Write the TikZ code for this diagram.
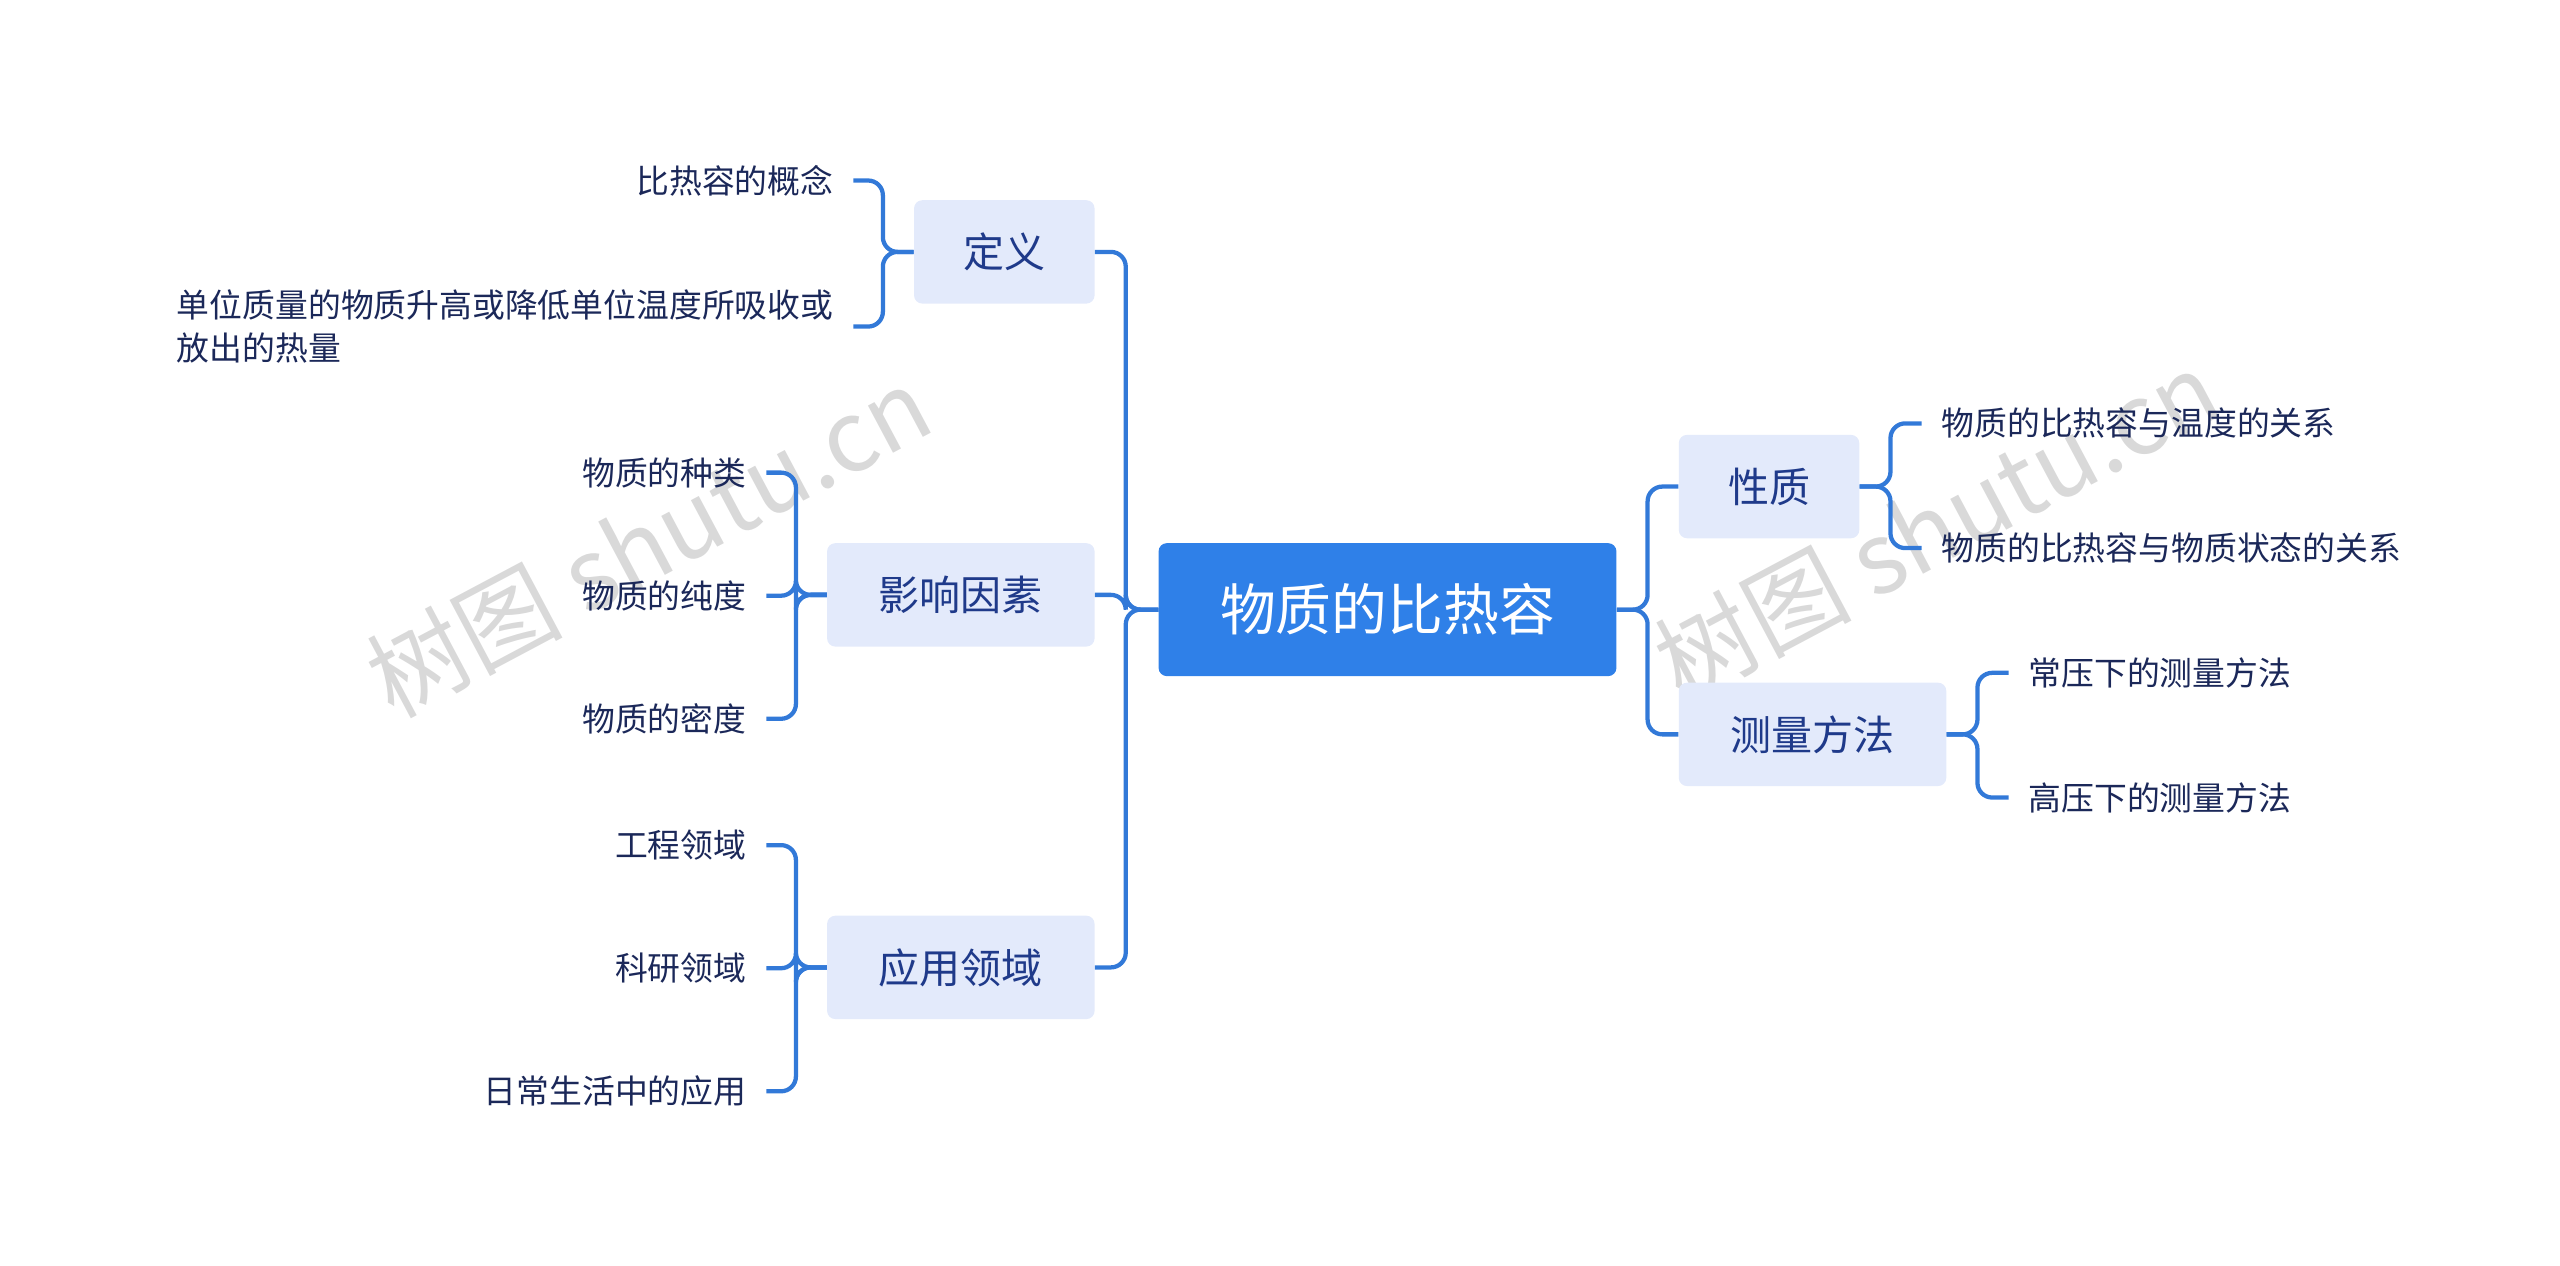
\documentclass[tikz,border=0pt]{standalone}
\usepackage{fontspec}
\setmainfont{Noto Sans CJK SC}
\definecolor{cen}{HTML}{2F80E8}
\definecolor{brf}{HTML}{E3EAFB}
\definecolor{brt}{HTML}{1F3A8A}
\definecolor{lft}{HTML}{1B2859}
\definecolor{ln}{HTML}{3279D8}
\begin{document}
\begin{tikzpicture}[x=1pt,y=-1pt,
  central/.style={fill=cen,text=white,rounded corners=5pt,minimum width=279pt,minimum height=81pt,font=\fontsize{34}{40}\selectfont,inner sep=0pt},
  branch/.style={fill=brf,text=brt,rounded corners=5pt,minimum height=63pt,font=\fontsize{25}{30}\selectfont,inner sep=0pt},
  leaf/.style={text=lft,font=\fontsize{20}{26}\selectfont,inner xsep=12pt,inner ysep=2pt},
  conn/.style={draw=ln,line width=2.6pt,rounded corners=9pt}]
\useasboundingbox (0,0) rectangle (1560,771);
\node[text=gray!30,font=\fontsize{60}{60}\selectfont,rotate=28] (w1) at (395,330) {树图 shutu.cn};
\node[text=gray!30,font=\fontsize{60}{60}\selectfont,rotate=28] (w2) at (1180,320) {树图 shutu.cn};
\node[central] (c) at (845.5,371.5) {物质的比热容};
\node[branch,minimum width=110pt] (d) at (612,153.5) {定义};
\node[branch,minimum width=163pt] (y) at (585.5,362.5) {影响因素};
\node[branch,minimum width=163pt] (a) at (585.5,589.5) {应用领域};
\node[branch,minimum width=110pt] (x) at (1078,296.5) {性质};
\node[branch,minimum width=163pt] (m) at (1104.5,447.5) {测量方法};
\node[leaf,anchor=east] (d1) at (520,110) {比热容的概念};
\node[leaf,anchor=east,align=left] (d2) at (520,199) {单位质量的物质升高或降低单位温度所吸收或\\放出的热量};
\node[leaf,anchor=east] (y1) at (467,288) {物质的种类};
\node[leaf,anchor=east] (y2) at (467,363) {物质的纯度};
\node[leaf,anchor=east] (y3) at (467,438) {物质的密度};
\node[leaf,anchor=east] (a1) at (467,515) {工程领域};
\node[leaf,anchor=east] (a2) at (467,590) {科研领域};
\node[leaf,anchor=east] (a3) at (467,665) {日常生活中的应用};
\node[leaf,anchor=west] (x1) at (1171,258) {物质的比热容与温度的关系};
\node[leaf,anchor=west] (x2) at (1171,334) {物质的比热容与物质状态的关系};
\node[leaf,anchor=west] (m1) at (1224,410) {常压下的测量方法};
\node[leaf,anchor=west] (m2) at (1224,486) {高压下的测量方法};
\foreach \b in {d,y,a} \draw[conn] (c.west) -- (686,371.5) |- (\b.east);
\foreach \b in {x,m} \draw[conn] (c.east) -- (1004,371.5) |- (\b.west);
\foreach \l in {d1,d2} \draw[conn] (d.west) -- (538,153.5) |- (\l.east);
\foreach \l in {y1,y2,y3} \draw[conn] (y.west) -- (485,362.5) |- (\l.east);
\foreach \l in {a1,a2,a3} \draw[conn] (a.west) -- (485,589.5) |- (\l.east);
\foreach \l in {x1,x2} \draw[conn] (x.east) -- (1152,296.5) |- (\l.west);
\foreach \l in {m1,m2} \draw[conn] (m.east) -- (1205,447.5) |- (\l.west);
\end{tikzpicture}
\end{document}
